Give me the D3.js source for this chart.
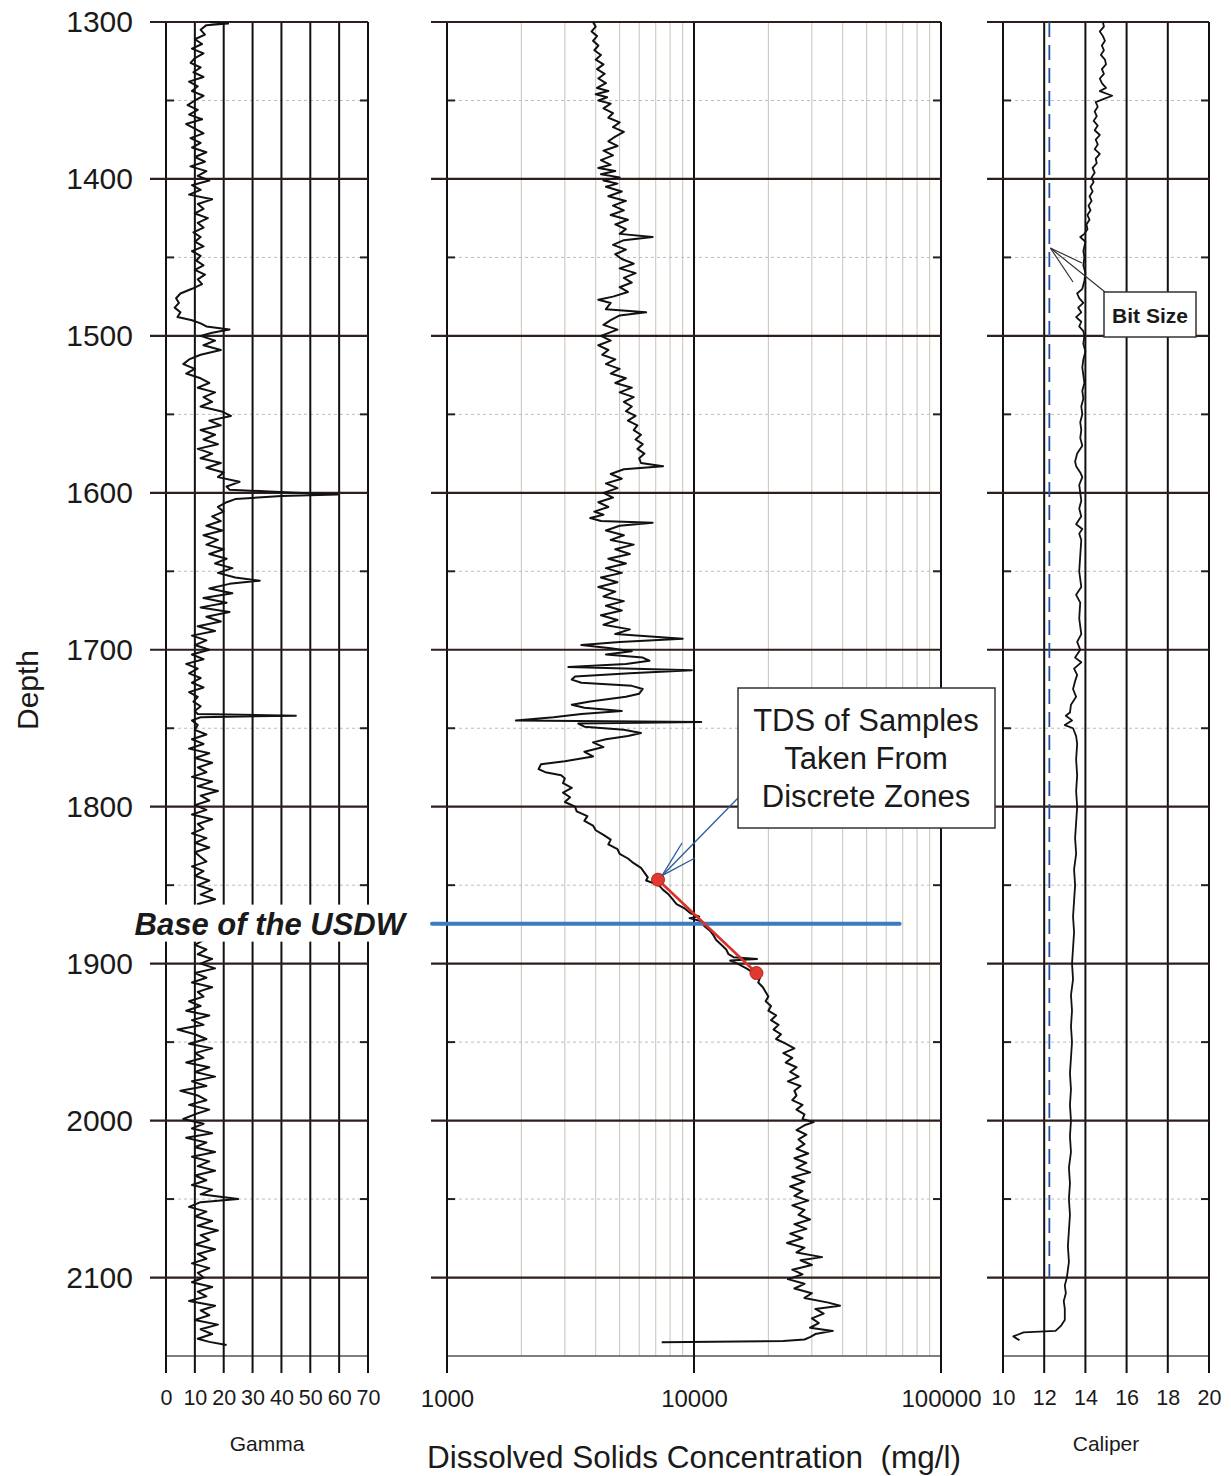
<!DOCTYPE html>
<html>
<head>
<meta charset="utf-8">
<title>Well log</title>
<script src="https://cdnjs.cloudflare.com/ajax/libs/d3/7.8.5/d3.min.js"></script>
<style>
  body, html { margin: 0; background: #fff; }
  svg text { font-family: Arial, "Liberation Sans", sans-serif; fill: #1a1a1a; }
</style>
</head>
<body>
<svg id="chart" width="1231" height="1476"></svg>
<script>
var depthMajor = d3.range(1300, 2101, 100)
var depthMinor = d3.range(1350, 2101, 100)
var gammaTicks = [0, 10, 20, 30, 40, 50, 60, 70]
var tdsTicks = [1000, 10000, 100000]
var tdsMinor = [2000, 3000, 4000, 5000, 6000, 7000, 8000, 9000, 20000, 30000, 40000, 50000, 60000, 70000, 80000, 90000]
var caliperTicks = [10, 12, 14, 16, 18, 20]

// [depth, gamma]
var gamma = [
  [1300,15],[1301,21.5],[1302,14],[1305,12],[1308,13.5],[1311,10],[1314,12.5],[1317,9],[1320,13],[1323,10],
  [1326,8.5],[1329,12],[1332,9.5],[1335,13],[1338,8],[1341,11],[1344,9],[1347,13],[1350,10],[1353,7.5],
  [1356,11],[1359,8],[1362,12.5],[1365,7],[1368,10],[1371,13],[1374,8.5],[1377,12],[1380,9],[1383,14],
  [1386,10],[1389,13.5],[1392,8.5],[1395,14],[1398,11],[1401,15],[1404,9],[1407,12],[1410,8],[1413,16],
  [1416,11],[1419,13],[1422,10],[1425,14.5],[1428,11],[1431,13],[1434,9.5],[1437,12],[1440,10],[1443,13],
  [1446,9],[1449,12],[1452,10.5],[1455,13],[1458,10],[1461,13.5],[1464,11],[1467,12.5],[1470,9],[1473,5],
  [1476,3.5],[1479,4.5],[1482,3],[1485,5],[1488,4],[1490,9],[1492,12],[1494,14],[1496,22],[1498,16],
  [1500,12],[1503,17],[1506,13],[1509,19],[1512,12],[1515,8],[1518,6],[1521,10],[1524,7],[1527,12],
  [1530,15],[1533,11],[1536,17],[1539,13],[1542,16],[1545,12],[1548,19],[1551,22.5],[1554,15],[1557,19],
  [1560,12],[1563,17],[1566,13],[1569,18],[1572,11],[1575,16],[1578,12],[1581,19],[1584,14],[1587,20],
  [1590,18],[1593,25.5],[1596,21],[1598,22],[1600,45],[1601,59.5],[1602,40],[1604,24],[1606,21],[1609,18],
  [1612,20],[1615,16],[1618,19],[1621,14],[1624,19.5],[1627,13],[1630,18],[1633,14],[1636,20],[1639,15],
  [1642,21],[1645,17],[1648,23],[1651,18],[1654,24],[1656,32.5],[1658,22],[1661,15],[1664,23],[1667,13],
  [1670,21],[1673,12],[1676,22],[1679,14],[1682,19],[1685,11],[1688,17],[1691,9],[1694,14],[1697,10],
  [1700,15],[1703,9],[1706,13],[1709,7],[1712,11],[1715,8],[1718,12],[1721,9],[1724,13],[1727,8],
  [1730,11],[1733,9.5],[1736,12],[1739,10],[1741,11],[1742,45],[1743,12],[1745,9],[1748,11],[1751,10],
  [1754,14],[1757,9],[1760,13],[1763,8],[1766,15],[1769,10],[1772,16],[1775,11],[1778,14],[1781,9],
  [1784,16],[1787,11],[1790,18],[1793,12],[1796,15],[1799,10],[1802,14],[1805,9],[1808,16],[1811,11],
  [1814,13],[1817,9],[1820,14],[1823,10],[1826,15],[1829,10],[1832,12],[1835,14],[1838,9],[1841,13],
  [1844,10],[1847,15],[1850,11],[1853,16],[1856,12],[1859,17],[1862,11],[1865,14],[1870,12],[1875,15],
  [1880,11],[1885,13],[1888,10],[1891,14],[1894,11],[1897,16],[1900,12],[1903,17],[1906,10],[1909,14],
  [1912,9],[1915,16],[1918,11],[1921,13],[1924,8],[1927,12],[1930,7],[1933,15],[1936,9],[1939,13],
  [1942,4],[1945,10],[1948,14],[1951,8],[1954,16],[1957,10],[1960,13],[1963,7],[1966,15],[1969,10],
  [1972,17],[1975,9],[1978,14],[1981,5],[1984,11],[1987,14],[1990,8],[1993,15],[1996,10],[1999,6],
  [2002,13],[2005,9],[2008,16],[2011,7],[2014,14],[2017,10],[2020,17],[2023,9],[2026,15],[2029,11],
  [2032,17],[2035,10],[2038,14],[2041,9],[2044,16],[2047,12],[2050,25],[2052,12],[2055,8],[2058,14],
  [2061,10],[2064,16],[2067,11],[2070,18],[2073,12],[2076,15],[2079,10],[2082,17],[2085,11],[2088,14],
  [2091,9],[2094,15],[2097,11],[2100,13],[2103,9],[2106,16],[2109,11],[2112,14],[2115,8],[2118,17],
  [2121,12],[2124,15],[2127,10],[2130,18],[2133,12],[2136,16],[2139,11],[2141,15],[2143,21]
]

// [depth, dissolved solids mg/l]
var tds = [
  [1300,3900],[1303,4000],[1306,3850],[1309,4050],[1312,3900],[1315,4100],[1318,3950],[1321,4200],[1324,4000],[1327,4300],
  [1330,4050],[1333,4350],[1336,4100],[1339,4400],[1342,4050],[1344,4500],[1346,4000],[1348,4450],[1350,4100],[1352,4600],
  [1355,4300],[1358,4700],[1361,4500],[1364,5000],[1367,4700],[1370,5200],[1373,4800],[1376,4500],[1379,4900],[1382,4300],
  [1385,4700],[1388,4200],[1391,4600],[1393,4100],[1395,4800],[1397,4200],[1399,5000],[1401,4300],[1403,4900],[1405,4400],
  [1408,5100],[1411,4500],[1414,5300],[1417,4700],[1420,5200],[1423,4600],[1426,5400],[1429,4800],[1432,5300],[1435,5000],
  [1437,6800],[1439,5200],[1442,4700],[1445,5300],[1448,4800],[1451,5100],[1454,5700],[1457,5000],[1460,5800],[1463,5200],
  [1466,5600],[1469,5000],[1472,5400],[1475,4700],[1477,4100],[1479,4600],[1483,4400],[1485,6400],[1487,5000],[1490,4600],
  [1493,4300],[1496,4900],[1500,4200],[1503,4600],[1506,4100],[1509,4500],[1512,4250],[1515,4800],[1518,4400],[1521,5000],
  [1524,4600],[1527,5300],[1530,4800],[1533,5600],[1536,5000],[1539,5700],[1542,5200],[1545,5600],[1548,5300],[1551,5800],
  [1554,5400],[1557,5900],[1560,5700],[1563,6100],[1566,5800],[1569,6200],[1572,5900],[1575,6300],[1578,6000],[1581,6100],
  [1583,7500],[1585,5200],[1588,4600],[1591,5100],[1594,4400],[1597,4900],[1600,4300],[1603,4700],[1606,4100],[1609,4500],
  [1612,3950],[1614,4300],[1616,3800],[1618,4200],[1619,6800],[1621,5000],[1624,4400],[1627,5200],[1630,4600],[1633,5700],
  [1636,4800],[1639,5500],[1642,4500],[1645,5300],[1648,4400],[1651,5100],[1654,4200],[1657,4900],[1660,4100],[1663,4800],
  [1666,4300],[1669,5200],[1672,4400],[1675,5100],[1678,4200],[1681,4900],[1684,4300],[1687,5500],[1690,4800],[1693,9000],
  [1695,5000],[1697,3500],[1699,4600],[1701,5600],[1703,4400],[1705,6200],[1707,6600],[1709,5300],[1711,3100],[1713,9800],
  [1715,5500],[1717,3300],[1719,3200],[1721,3500],[1723,5600],[1725,6200],[1728,6000],[1730,5300],[1733,3800],[1735,3200],
  [1737,3600],[1739,5100],[1741,3500],[1743,2700],[1745,1900],[1746,10700],[1747,3400],[1749,3600],[1751,5200],[1753,6100],
  [1755,5400],[1757,4400],[1759,3900],[1762,4300],[1765,3600],[1768,3900],[1771,3000],[1773,2400],[1776,2350],[1778,2500],
  [1780,2900],[1782,3000],[1785,2950],[1788,3200],[1791,2950],[1794,3150],[1797,3000],[1800,3300],[1803,3350],[1806,3700],
  [1809,3600],[1812,3900],[1815,4000],[1818,4300],[1821,4600],[1824,4500],[1827,4900],[1830,5000],[1833,5400],[1836,5700],
  [1839,6100],[1842,6300],[1845,6500],[1847,6400],[1850,7200],[1853,7500],[1856,7900],[1859,8200],[1862,8500],[1865,9200],
  [1868,9700],[1870,10500],[1871,9600],[1873,10700],[1876,11000],[1879,11600],[1882,12000],[1885,12300],[1888,12900],[1891,13500],
  [1894,13800],[1896,14500],[1897,18000],[1898,14000],[1900,15000],[1903,16300],[1906,17500],[1909,18500],[1912,18200],[1915,19000],
  [1918,19500],[1921,20000],[1924,19500],[1927,20500],[1930,20000],[1933,21500],[1936,20500],[1939,22000],[1942,21000],[1945,22500],
  [1948,21500],[1951,23500],[1954,25500],[1957,23000],[1960,25000],[1963,23500],[1966,26000],[1969,24500],[1972,26500],[1975,24000],
  [1978,27000],[1981,25500],[1984,26000],[1987,25000],[1990,27500],[1993,26000],[1996,28000],[1999,27500],[2001,30500],[2003,28000],
  [2006,26000],[2009,28500],[2012,26500],[2015,28000],[2018,26000],[2021,29000],[2024,25500],[2027,28500],[2030,26000],[2033,29500],
  [2036,25000],[2039,28000],[2042,24500],[2045,27500],[2048,25500],[2051,29000],[2054,25000],[2057,28000],[2060,26500],[2063,29500],
  [2066,25500],[2069,28500],[2072,24500],[2075,27500],[2078,23800],[2081,28000],[2084,26000],[2087,33000],[2089,27000],[2092,30000],
  [2095,25000],[2098,27500],[2101,24000],[2104,28000],[2107,25500],[2110,30000],[2113,28000],[2116,35000],[2118,39000],[2120,31000],
  [2123,33500],[2126,30000],[2129,32000],[2132,29500],[2134,36500],[2136,31000],[2138,29500],[2139.5,28000],[2140.5,23000],[2141.3,7400]
]

// [depth, caliper in]
var caliper = [
  [1300,14.85],[1303,14.9],[1306,14.7],[1309,14.85],[1312,14.95],[1315,14.8],[1318,14.9],[1321,14.75],[1324,14.95],[1327,15.0],
  [1330,14.8],[1333,14.9],[1336,14.7],[1339,14.8],[1342,15.0],[1344,14.7],[1347,15.3],[1349,14.9],[1351,14.5],[1354,14.6],
  [1357,14.45],[1360,14.55],[1363,14.4],[1366,14.6],[1369,14.45],[1372,14.7],[1375,14.5],[1378,14.6],[1381,14.45],[1384,14.7],
  [1387,14.5],[1390,14.55],[1393,14.35],[1396,14.45],[1399,14.3],[1402,14.4],[1405,14.25],[1408,14.35],[1411,14.2],[1414,14.3],
  [1417,14.15],[1420,14.25],[1423,14.1],[1426,14.2],[1429,14.05],[1432,14.1],[1435,13.95],[1437,13.75],[1440,14.0],[1443,13.95],
  [1446,13.9],[1450,13.95],[1455,13.9],[1460,14.0],[1465,13.95],[1470,13.85],[1473,13.6],[1476,13.7],[1479,13.9],[1482,13.65],
  [1485,13.8],[1488,13.55],[1491,13.8],[1494,13.7],[1497,13.9],[1500,13.95],[1505,13.9],[1510,14.0],[1515,13.9],[1520,13.85],
  [1525,13.9],[1530,13.95],[1535,13.85],[1540,13.9],[1545,13.8],[1550,13.85],[1555,13.75],[1560,13.8],[1565,13.75],[1570,13.85],
  [1575,13.6],[1580,13.5],[1583,13.55],[1587,13.75],[1590,13.85],[1595,13.7],[1600,13.75],[1605,13.8],[1610,13.7],[1615,13.8],
  [1620,13.55],[1623,13.85],[1626,13.7],[1630,13.8],[1640,13.75],[1650,13.7],[1660,13.8],[1665,13.55],[1670,13.75],[1680,13.7],
  [1690,13.8],[1695,13.6],[1700,13.75],[1705,13.5],[1708,13.8],[1712,13.45],[1716,13.6],[1720,13.5],[1725,13.4],[1730,13.55],
  [1735,13.3],[1740,13.25],[1742,13.05],[1745,13.35],[1748,13.0],[1750,13.4],[1755,13.55],[1760,13.6],[1770,13.55],[1780,13.6],
  [1790,13.55],[1800,13.6],[1810,13.55],[1820,13.5],[1830,13.55],[1840,13.45],[1850,13.5],[1860,13.45],[1870,13.4],[1880,13.45],
  [1890,13.4],[1900,13.35],[1910,13.4],[1920,13.3],[1930,13.35],[1940,13.3],[1950,13.35],[1960,13.3],[1970,13.25],[1980,13.3],
  [1990,13.25],[2000,13.3],[2010,13.25],[2020,13.3],[2030,13.2],[2040,13.25],[2050,13.2],[2060,13.25],[2070,13.2],[2080,13.15],
  [2090,13.2],[2100,13.1],[2105,13.0],[2110,13.05],[2115,12.95],[2120,13.0],[2127,13.0],[2131,12.8],[2134,12.55],[2135,11.0],
  [2137.5,10.5],[2140,10.8]
]

// lab samples [depth, mg/l]
var samples = [[1846.5, 7150], [1906, 17900]]
var usdwDepth = 1874.5
var usdwEnd = 68000
var bitSize = 12.25
var bitSizeEnd = 2100

// ---- scales ----
var svg = d3.select('#chart')
svg.append('rect').attr('width', 1231).attr('height', 1476).attr('fill', '#fff')

var y = d3.scaleLinear().domain([1300, 2150]).range([22, 1356])
var xG = d3.scaleLinear().domain([0, 70]).range([166, 368])
var xT = d3.scaleLog().domain([1000, 100000]).range([447, 941])
var xC = d3.scaleLinear().domain([10, 20]).range([1003, 1209])

function drawPanel(x, major, minor, fontSize, fmt) {
  var g = svg.append('g')
  var x0 = x.range()[0], x1 = x.range()[1]
  g.selectAll('.vmin').data(minor).enter().append('line')
    .attr('x1', x).attr('x2', x).attr('y1', y(1300)).attr('y2', y(2150))
    .attr('stroke', '#c9c3b6').attr('stroke-width', 1)
  g.selectAll('.hmin').data(depthMinor).enter().append('line')
    .attr('x1', x0).attr('x2', x1).attr('y1', y).attr('y2', y)
    .attr('stroke', '#bdbdbd').attr('stroke-width', 1).attr('stroke-dasharray', '3,3')
  g.selectAll('.tl').data(depthMinor).enter().append('line')
    .attr('x1', x0).attr('x2', x0 + 8).attr('y1', y).attr('y2', y)
    .attr('stroke', '#222').attr('stroke-width', 2)
  g.selectAll('.tr').data(depthMinor).enter().append('line')
    .attr('x1', x1 - 8).attr('x2', x1).attr('y1', y).attr('y2', y)
    .attr('stroke', '#222').attr('stroke-width', 2)
  g.append('line').attr('x1', x0).attr('x2', x1).attr('y1', y(2150)).attr('y2', y(2150))
    .attr('stroke', '#555').attr('stroke-width', 1.5)
  g.selectAll('.vmaj').data(major).enter().append('line')
    .attr('x1', x).attr('x2', x).attr('y1', y(1300)).attr('y2', y(2150) + 17)
    .attr('stroke', '#111').attr('stroke-width', 2)
  g.selectAll('.hmaj').data(depthMajor).enter().append('line')
    .attr('x1', x0 - 16).attr('x2', x1).attr('y1', y).attr('y2', y)
    .attr('stroke', '#2e1e1c').attr('stroke-width', 2.2)
  var ax = g.append('g').attr('transform', 'translate(0,' + y(2150) + ')')
    .call(d3.axisBottom(x).tickValues(major).tickSize(17).tickPadding(17).tickFormat(fmt))
    .attr('font-size', fontSize)
  ax.select('.domain').remove()
  ax.selectAll('line').remove()
  return g
}

drawPanel(xG, gammaTicks, [], 21.5, d3.format('d'))
drawPanel(xT, tdsTicks, tdsMinor, 24, d3.format('d'))
drawPanel(xC, caliperTicks, [], 21.5, d3.format('d'))

// depth labels
var ay = svg.append('g').attr('transform', 'translate(166,0)')
  .call(d3.axisLeft(y).tickValues(depthMajor).tickSize(16).tickPadding(17).tickFormat(d3.format('d')))
  .attr('font-size', 30)
ay.select('.domain').remove()
ay.selectAll('line').remove()

svg.append('text').attr('transform', 'translate(27,690) rotate(-90)')
  .attr('text-anchor', 'middle').attr('dominant-baseline', 'central')
  .attr('font-size', 30).text('Depth')

svg.append('text').attr('x', d3.mean(xG.range())).attr('y', 1451)
  .attr('text-anchor', 'middle').attr('font-size', 21).text('Gamma')
svg.append('text').attr('x', xT(10000)).attr('y', 1468)
  .attr('text-anchor', 'middle').attr('font-size', 31.5)
  .style('white-space', 'pre').text('Dissolved Solids Concentration  (mg/l)')
svg.append('text').attr('x', d3.mean(xC.range())).attr('y', 1451)
  .attr('text-anchor', 'middle').attr('font-size', 21).text('Caliper')

// bit size
svg.append('line').attr('x1', xC(bitSize)).attr('x2', xC(bitSize))
  .attr('y1', y(1300)).attr('y2', y(bitSizeEnd))
  .attr('stroke', '#2453a6').attr('stroke-width', 1.8).attr('stroke-dasharray', '15,8')

// curves
function curve(x, data, w) {
  svg.append('path').datum(data)
    .attr('d', d3.line().x(function(d){ return x(d[1]) }).y(function(d){ return y(d[0]) }))
    .attr('fill', 'none').attr('stroke', '#111').attr('stroke-width', w)
    .attr('stroke-linejoin', 'round')
}
curve(xG, gamma, 2)
curve(xT, tds, 2)
curve(xC, caliper, 1.8)

// base of USDW
svg.append('line').attr('x1', xT(1000) - 15).attr('x2', xT(usdwEnd))
  .attr('y1', y(usdwDepth)).attr('y2', y(usdwDepth))
  .attr('stroke', '#3a7cbf').attr('stroke-width', 4).attr('stroke-linecap', 'round')
svg.append('rect').attr('x', 126).attr('y', y(usdwDepth) - 19).attr('width', 286).attr('height', 37).attr('fill', '#fff')
svg.append('text').attr('x', 405).attr('y', y(usdwDepth) + 11)
  .attr('text-anchor', 'end').attr('font-size', 31).attr('font-weight', 'bold').attr('font-style', 'italic')
  .text('Base of the USDW')

// samples
svg.append('path').datum(samples)
  .attr('d', d3.line().x(function(d){ return xT(d[1]) }).y(function(d){ return y(d[0]) }))
  .attr('stroke', '#d8322a').attr('stroke-width', 2.6).attr('fill', 'none')
svg.selectAll('.smp').data(samples).enter().append('circle')
  .attr('cx', function(d){ return xT(d[1]) }).attr('cy', function(d){ return y(d[0]) })
  .attr('r', 6.5).attr('fill', '#e03a30').attr('stroke', '#b3241c').attr('stroke-width', 1)

// TDS callout
var sx = xT(samples[0][1]) + 4, sy = y(samples[0][0]) - 4
var leaders = [[738, 798], [682, 843], [695, 858]]
svg.selectAll('.lead').data(leaders).enter().append('line')
  .attr('x1', function(d){ return d[0] }).attr('y1', function(d){ return d[1] })
  .attr('x2', sx).attr('y2', sy)
  .attr('stroke', '#2a5d9c').attr('stroke-width', 1.3)
svg.append('rect').attr('x', 738).attr('y', 688).attr('width', 257).attr('height', 140)
  .attr('fill', '#fff').attr('stroke', '#333').attr('stroke-width', 1.5)
var lines = ['TDS of Samples', 'Taken From', 'Discrete Zones']
svg.selectAll('.co').data(lines).enter().append('text')
  .attr('x', 866).attr('y', function(d, i){ return 731 + i * 38 })
  .attr('text-anchor', 'middle').attr('font-size', 31).text(function(d){ return d })

// bit size callout
var bx = xC(bitSize) + 1, by = y(1444)
var bitLeaders = [[1082, 263], [1073, 282], [1105, 292]]
svg.selectAll('.bl').data(bitLeaders).enter().append('line')
  .attr('x1', bx).attr('y1', by)
  .attr('x2', function(d){ return d[0] }).attr('y2', function(d){ return d[1] })
  .attr('stroke', '#333').attr('stroke-width', 1.2)
svg.append('rect').attr('x', 1104).attr('y', 292).attr('width', 92).attr('height', 45)
  .attr('fill', '#fff').attr('stroke', '#333').attr('stroke-width', 1.5)
svg.append('text').attr('x', 1150).attr('y', 323).attr('text-anchor', 'middle')
  .attr('font-size', 21).attr('font-weight', 'bold').text('Bit Size')
</script>
</body>
</html>
